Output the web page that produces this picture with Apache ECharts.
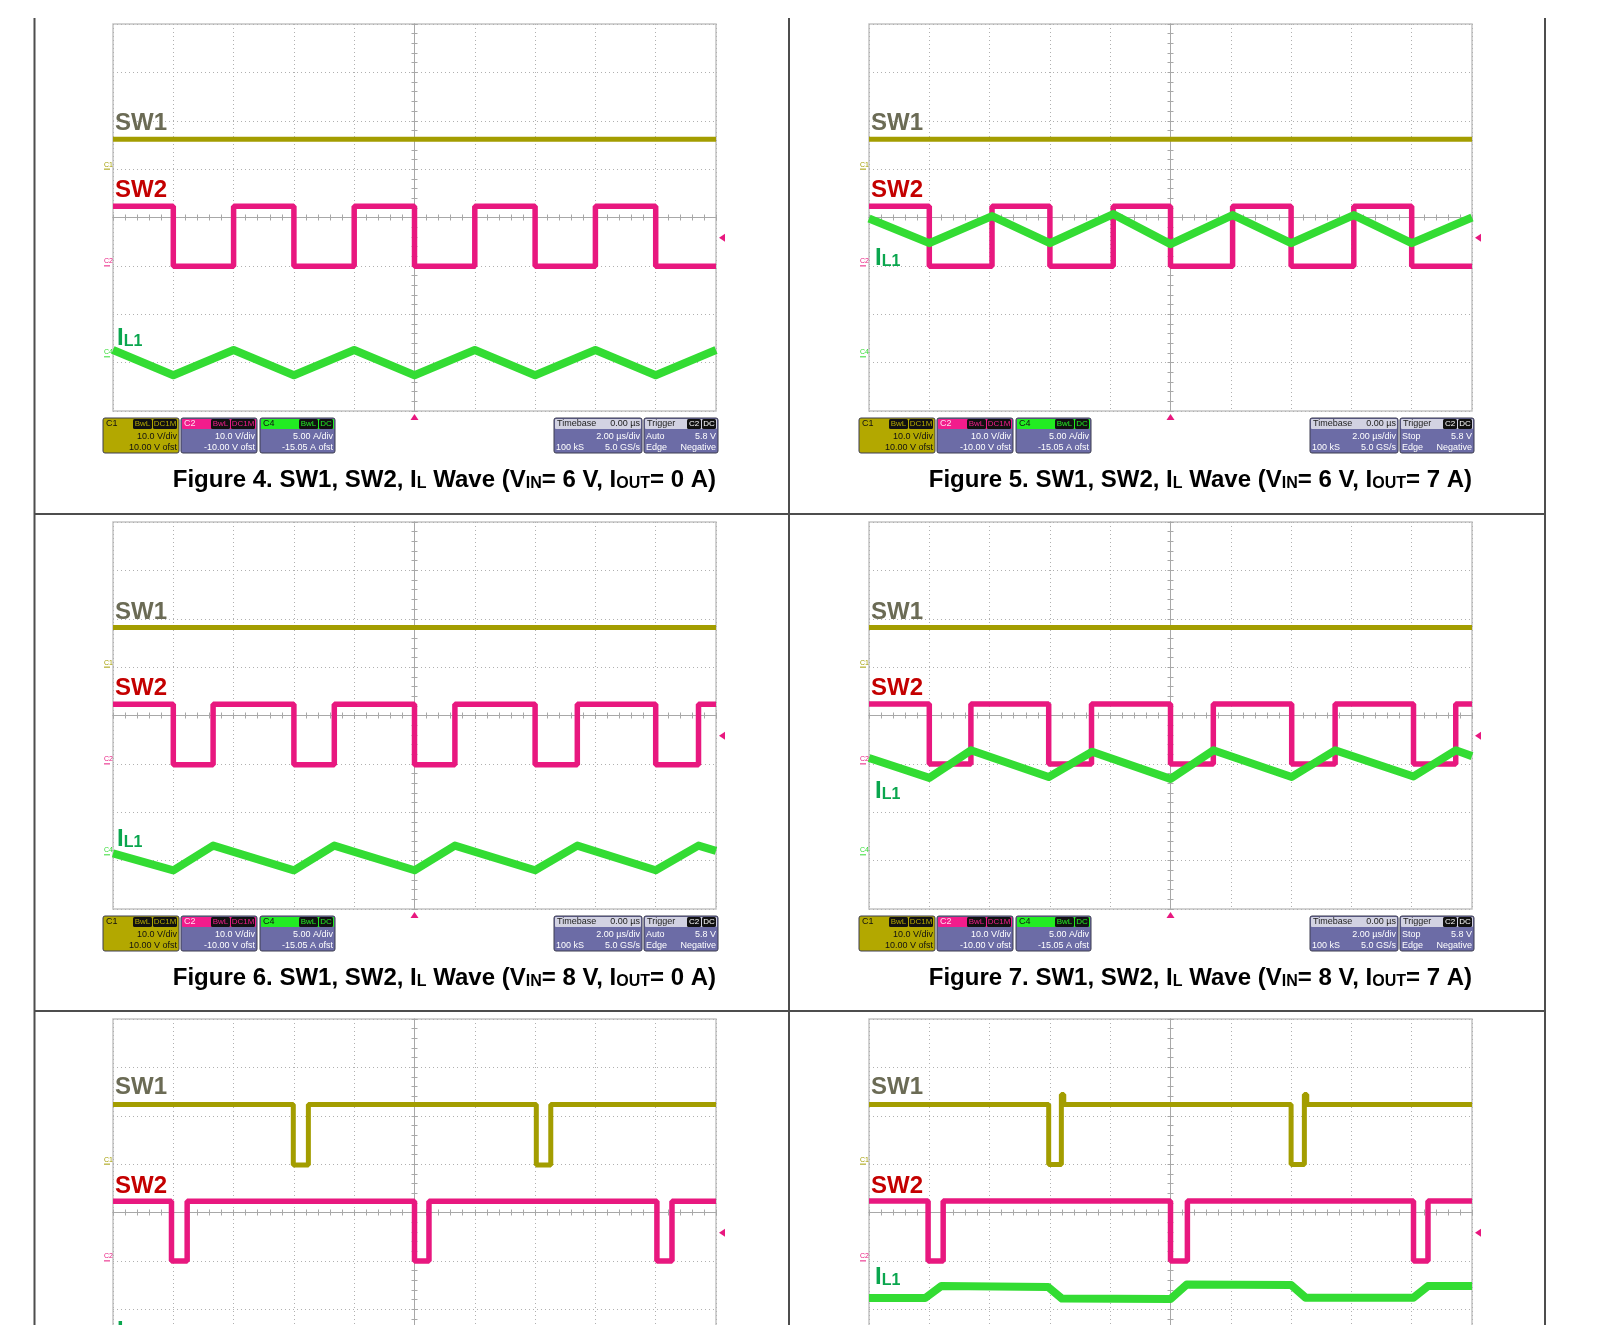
<!DOCTYPE html>
<html>
<head>
<meta charset="utf-8">
<script src="https://cdn.jsdelivr.net/npm/echarts@6/dist/echarts.min.js"></script>
<style>
html, body { margin: 0; padding: 0; background: #fff; overflow: hidden; }
#wrap { width: 1598px; height: 1344px; overflow: hidden; }
#main { width: 1598px; height: 1420px; }
</style>
</head>
<body>
<div id="wrap"><div id="main"></div></div>
<script>
// scope traces as breakpoints, in divisions (x -5..5, y -4..4, trigger at centre)
const fig4Sw1 = [[-5, 1.62], [5, 1.62]];
const fig4Sw2 = [[-5, 0.23], [-4, -1.01], [-3, 0.23], [-2, -1.01], [-1, 0.23], [0, -1.01], [1, 0.23], [2, -1.01], [3, 0.23], [4, -1.01], [5, -1.01]];
const fig4Il1 = [[-5, -2.74], [-4, -3.26], [-3, -2.74], [-2, -3.26], [-1, -2.74], [0, -3.26], [1, -2.74], [2, -3.26], [3, -2.74], [4, -3.26], [5, -2.74]];

const fig5Sw1 = [[-5, 1.62], [5, 1.62]];
const fig5Sw2 = [[-5, 0.23], [-4, -1.01], [-2.96, 0.23], [-2, -1.01], [-0.95, 0.23], [0, -1.01], [1.03, 0.23], [2, -1.01], [3.04, 0.23], [4, -1.01], [5, -1.01]];
const fig5Il1 = [[-5, -0.02], [-4, -0.53], [-2.96, 0.03], [-2, -0.53], [-0.95, 0.07], [0, -0.55], [1.03, 0.05], [2, -0.53], [3.04, 0.05], [4, -0.53], [5, 0.0]];

const fig6Sw1 = [[-5, 1.82], [5, 1.82]];
const fig6Sw2 = [[-5, 0.23], [-4, -1.02], [-3.34, 0.23], [-2, -1.02], [-1.33, 0.23], [0, -1.02], [0.67, 0.23], [2, -1.02], [2.7, 0.23], [4, -1.02], [4.71, 0.23], [5, 0.23]];
const fig6Il1 = [[-5, -2.85], [-4, -3.2], [-3.34, -2.69], [-2, -3.2], [-1.33, -2.69], [0, -3.2], [0.67, -2.69], [2, -3.2], [2.7, -2.69], [4, -3.2], [4.71, -2.69], [5, -2.8]];

const fig7Sw1 = [[-5, 1.82], [5, 1.82]];
const fig7Sw2 = [[-5, 0.24], [-4, -1.0], [-3.31, 0.24], [-2.02, -1.0], [-1.31, 0.24], [0, -1.0], [0.71, 0.24], [2.01, -1.0], [2.73, 0.24], [4.03, -1.0], [4.73, 0.24], [5, 0.24]];
const fig7Il1 = [[-5, -0.88], [-4, -1.29], [-3.31, -0.72], [-2.02, -1.27], [-1.3, -0.75], [0, -1.31], [0.71, -0.72], [2.01, -1.27], [2.73, -0.72], [4.03, -1.26], [4.73, -0.72], [5, -0.84]];

const fig8Sw1 = [[-5, 2.23], [-2.01, 0.98], [-1.76, 2.23], [2.02, 0.98], [2.26, 2.23], [5, 2.23]];
const fig8Sw2 = [[-5, 0.23], [-4.03, -1.0], [-3.77, 0.23], [0, -1.0], [0.24, 0.23], [4.02, -1.0], [4.27, 0.23], [5, 0.23]];
const fig8Il1 = [];

const fig9Sw1 = [[-5, 2.23], [-2.02, 0.99], [-1.81, 2.44], [-1.77, 2.23], [2.0, 0.99], [2.22, 2.44], [2.26, 2.23], [5, 2.23]];
const fig9Sw2 = [[-5, 0.24], [-4.02, -1.0], [-3.77, 0.24], [0, -1.0], [0.28, 0.24], [4.03, -1.0], [4.27, 0.24], [5, 0.24]];
const fig9Il1 = [[-5, -1.77], [-4.07, -1.77], [-3.8, -1.52], [-2.03, -1.54], [-1.8, -1.78], [0, -1.79], [0.27, -1.49], [2.0, -1.5], [2.24, -1.76], [4.03, -1.76], [4.27, -1.52], [5, -1.52]];

// channel ground markers and trigger level (divisions)
const chanNames = ['C1', 'C2', 'C4'];
const chanLevels = [1.0, -1.0, -2.88];
const triggerLevel = -0.42;

// readout boxes
const c1Lines = ['10.0 V/div', '10.00 V ofst'];
const c2Lines = ['10.0 V/div', '-10.00 V ofst'];
const c4Lines = ['5.00 A/div', '-15.05 A ofst'];
const timebaseLines = ['0.00 µs', '2.00 µs/div', '100 kS', '5.0 GS/s'];
const triggerLines = ['5.8 V', 'Edge', 'Negative'];

const sw1Color = '#a39d00', sw2Color = '#e8187f', il1Color = '#33dc33';
const plotW = 603, plotH = 387;

const panels = [
    {left: 113, top: 24, sw1: fig4Sw1, sw2: fig4Sw2, il1: fig4Il1, mode: 'Auto', cap: [4, 6, 0], lab: [99, 166.5, 4, 312]},
    {left: 869, top: 24, sw1: fig5Sw1, sw2: fig5Sw2, il1: fig5Il1, mode: 'Stop', cap: [5, 6, 7], lab: [99, 166.5, 6, 232]},
    {left: 113, top: 522, sw1: fig6Sw1, sw2: fig6Sw2, il1: fig6Il1, mode: 'Auto', cap: [6, 8, 0], lab: [90, 166, 4, 315]},
    {left: 869, top: 522, sw1: fig7Sw1, sw2: fig7Sw2, il1: fig7Il1, mode: 'Stop', cap: [7, 8, 7], lab: [90, 166, 6, 267]},
    {left: 113, top: 1019, sw1: fig8Sw1, sw2: fig8Sw2, il1: fig8Il1, mode: null, cap: null, lab: [68, 167, 4, 310]},
    {left: 869, top: 1019, sw1: fig9Sw1, sw2: fig9Sw2, il1: fig9Il1, mode: null, cap: null, lab: [68, 167, 6, 256]}
];

const tickColor = '#a8a8a8';
function xAxes(i) {
    const base = {type: 'value', gridIndex: i, min: -5, max: 5, interval: 1, position: 'bottom',
        axisLabel: {show: false},
        axisLine: {onZero: true, lineStyle: {color: tickColor, width: 1}},
        minorTick: {show: true, splitNumber: 5, length: 3, lineStyle: {color: tickColor}}};
    return [
        Object.assign({}, base, {axisTick: {show: true, length: 3, inside: false, lineStyle: {color: tickColor}},
            splitLine: {show: true, lineStyle: {type: [1, 3], color: '#b0b0b0'}}}),
        Object.assign({}, base, {axisTick: {show: true, length: 3, inside: true, lineStyle: {color: tickColor}},
            splitLine: {show: false}})
    ];
}
function yAxes(i) {
    const base = {type: 'value', gridIndex: i, min: -4, max: 4, interval: 1, position: 'left',
        axisLabel: {show: false},
        axisLine: {onZero: true, lineStyle: {color: tickColor, width: 1}},
        minorTick: {show: true, splitNumber: 5, length: 3, lineStyle: {color: tickColor}}};
    return [
        Object.assign({}, base, {axisTick: {show: true, length: 3, inside: false, lineStyle: {color: tickColor}},
            splitLine: {show: true, lineStyle: {type: [1, 3], color: '#b0b0b0'}}}),
        Object.assign({}, base, {axisTick: {show: true, length: 3, inside: true, lineStyle: {color: tickColor}},
            splitLine: {show: false}})
    ];
}

const grids = [], xs = [], ys = [], series = [];
panels.forEach((p, i) => {
    grids.push({left: p.left, top: p.top, width: plotW, height: plotH, show: true,
        borderColor: '#c4c4c4', borderWidth: 1.5});
    xs.push(...xAxes(i));
    ys.push(...yAxes(i));
    const common = {type: 'line', xAxisIndex: 2 * i, yAxisIndex: 2 * i, symbol: 'none', silent: true, animation: false};
    series.push(Object.assign({}, common, {name: 'SW1', data: p.sw1, step: 'end', z: 3,
        lineStyle: {color: sw1Color, width: 5}}));
    series.push(Object.assign({}, common, {name: 'SW2', data: p.sw2, step: 'end', z: 4,
        lineStyle: {color: sw2Color, width: 5.5}}));
    series.push(Object.assign({}, common, {name: 'IL1', data: p.il1, z: 5,
        lineStyle: {color: il1Color, width: 8, join: 'round'}}));
});

const chart = echarts.init(document.getElementById('main'));
chart.setOption({animation: false, grid: grids, xAxis: xs, yAxis: ys, series: series});

// ---------- annotations ----------
const FONT = 'Liberation Sans';
function txt(x, y, text, font, fill, align, vAlign, rich) {
    const style = {text: text, font: font, fill: fill, align: align, textAlign: align,
        verticalAlign: vAlign, textVerticalAlign: vAlign};
    if (rich) style.rich = rich;
    return {type: 'text', x: x, y: y, z: 30, silent: true, style: style};
}
function rect(x, y, w, h, fill, stroke, r) {
    return {type: 'rect', z: 25, silent: true, shape: {x: x, y: y, width: w, height: h, r: r || 0},
        style: {fill: fill, stroke: stroke || null, lineWidth: 1}};
}
function line(x1, y1, x2, y2, color, w) {
    return {type: 'line', z: 25, silent: true, shape: {x1: x1, y1: y1, x2: x2, y2: y2},
        style: {stroke: color, lineWidth: w}};
}
function badges(els, right, cy, list, bg, fg) {
    let x = right;
    list.slice().reverse().forEach(b => {
        const w = b.length * 5 + 4;
        x -= w;
        els.push(rect(x, cy - 5, w, 10, bg, null, 1.5));
        els.push(txt(x + w / 2, cy, b, '8px ' + FONT, fg, 'center', 'middle'));
        x -= 1;
    });
}
const small = '9px ' + FONT;
function chanBox(els, x, y, w, name, headFill, headText, bodyFill, bodyText, badgeFg, badgeList, lines) {
    els.push(rect(x, y, w, 35, bodyFill, '#3c3c50', 2));
    els.push(rect(x + 1, y + 1, w - 2, 10, headFill, null, 1));
    els.push(txt(x + 3, y + 6, name, small, headText, 'left', 'middle'));
    badges(els, x + w - 2, y + 6, badgeList, '#111', badgeFg);
    els.push(txt(x + w - 2, y + 18.5, lines[0], small, bodyText, 'right', 'middle'));
    els.push(txt(x + w - 2, y + 29.5, lines[1], small, bodyText, 'right', 'middle'));
}
function readouts(els, p) {
    const y = p.top + plotH + 7, x = p.left;
    chanBox(els, x - 10, y, 76, 'C1', '#b3a800', '#111', '#b3a800', '#111', '#b3a800', ['BwL', 'DC1M'], c1Lines);
    chanBox(els, x + 68, y, 76, 'C2', '#f21c8c', '#fde', '#6c6ca6', '#fff', '#f21c8c', ['BwL', 'DC1M'], c2Lines);
    chanBox(els, x + 147, y, 75, 'C4', '#22ec22', '#111', '#6c6ca6', '#fff', '#22ec22', ['BwL', 'DC'], c4Lines);
    // timebase
    const tx = x + 441, tw = 88;
    els.push(rect(tx, y, tw, 35, '#6c6ca6', '#3c3c50', 2));
    els.push(rect(tx + 1, y + 1, tw - 2, 10, '#d2d2e2', null, 1));
    els.push(txt(tx + 3, y + 6, 'Timebase', small, '#222', 'left', 'middle'));
    els.push(txt(tx + tw - 2, y + 6, timebaseLines[0], small, '#222', 'right', 'middle'));
    els.push(txt(tx + tw - 2, y + 18.5, timebaseLines[1], small, '#fff', 'right', 'middle'));
    els.push(txt(tx + 2, y + 29.5, timebaseLines[2], small, '#fff', 'left', 'middle'));
    els.push(txt(tx + tw - 2, y + 29.5, timebaseLines[3], small, '#fff', 'right', 'middle'));
    // trigger
    const rx = x + 531, rw = 74;
    els.push(rect(rx, y, rw, 35, '#6c6ca6', '#3c3c50', 2));
    els.push(rect(rx + 1, y + 1, rw - 2, 10, '#d2d2e2', null, 1));
    els.push(txt(rx + 3, y + 6, 'Trigger', small, '#222', 'left', 'middle'));
    badges(els, rx + rw - 2, y + 6, ['C2', 'DC'], '#111', '#fff');
    els.push(txt(rx + 2, y + 18.5, p.mode, small, '#fff', 'left', 'middle'));
    els.push(txt(rx + rw - 2, y + 18.5, triggerLines[0], small, '#fff', 'right', 'middle'));
    els.push(txt(rx + 2, y + 29.5, triggerLines[1], small, '#fff', 'left', 'middle'));
    els.push(txt(rx + rw - 2, y + 29.5, triggerLines[2], small, '#fff', 'right', 'middle'));
}

const capRich = {
    m: {fontFamily: FONT, fontWeight: 'bold', fontSize: 24, color: '#000', lineHeight: 28, verticalAlign: 'bottom'},
    s: {fontFamily: FONT, fontWeight: 'bold', fontSize: 16, color: '#000', lineHeight: 12, verticalAlign: 'bottom'}
};
const labRich = {
    a: {fontFamily: FONT, fontWeight: 'bold', fontSize: 24, color: '#0aa64e', lineHeight: 28, verticalAlign: 'bottom'},
    b: {fontFamily: FONT, fontWeight: 'bold', fontSize: 16, color: '#0aa64e', lineHeight: 12, verticalAlign: 'bottom'}
};

const els = [];
// frame lines of the figure table
[34.5, 789, 1545].forEach(x => els.push(line(x, 18, x, 1325, '#4d4d4d', 2)));
[514, 1011].forEach(y => els.push(line(34, y, 1545, y, '#4d4d4d', 2)));

panels.forEach((p, i) => {
    const labFont = 'bold 24px ' + FONT;
    els.push(txt(p.left + 2, p.top + p.lab[0], 'SW1', labFont, '#6b6b55', 'left', 'middle'));
    els.push(txt(p.left + 2, p.top + p.lab[1], 'SW2', labFont, '#c40000', 'left', 'middle'));
    els.push(txt(p.left + p.lab[2], p.top + p.lab[3], '{a|I}{b|L1}', '24px ' + FONT, '#0aa64e', 'left', 'middle', labRich));

    // channel ground markers on the left edge
    const chanColors = ['#a39d00', sw2Color, il1Color];
    chanNames.forEach((c, k) => {
        const pt = chart.convertToPixel({gridIndex: i}, [-5, chanLevels[k]]);
        els.push(txt(pt[0] - 9, pt[1] - 1, c, '7px ' + FONT, chanColors[k], 'left', 'bottom'));
        els.push(line(pt[0] - 9, pt[1], pt[0] - 3, pt[1], chanColors[k], 1));
    });
    // trigger markers
    const tr = chart.convertToPixel({gridIndex: i}, [5, triggerLevel]);
    els.push({type: 'polygon', z: 25, silent: true, shape: {points: [[tr[0] + 3, tr[1]], [tr[0] + 9, tr[1] - 4], [tr[0] + 9, tr[1] + 4]]},
        style: {fill: sw2Color}});
    const tb = chart.convertToPixel({gridIndex: i}, [0, -4]);
    els.push({type: 'polygon', z: 25, silent: true, shape: {points: [[tb[0], tb[1] + 3], [tb[0] - 4, tb[1] + 9], [tb[0] + 4, tb[1] + 9]]},
        style: {fill: sw2Color}});

    if (p.mode) readouts(els, p);
    if (p.cap) {
        const c = p.cap;
        const t = '{m|Figure ' + c[0] + '. SW1, SW2, I}{s|L}{m| Wave (V}{s|IN}{m|= ' + c[1] + ' V, I}{s|OUT}{m|= ' + c[2] + ' A)}';
        els.push(txt(p.left + plotW, p.top + plotH + 67, t, 'bold 24px ' + FONT, '#000', 'right', 'middle', capRich));
    }
});

// page is cut off below the third row
els.push({type: 'rect', z: 200, silent: true, shape: {x: 0, y: 1325, width: 1598, height: 100}, style: {fill: '#fff'}});

chart.setOption({graphic: {elements: els}});
</script>
</body>
</html>
